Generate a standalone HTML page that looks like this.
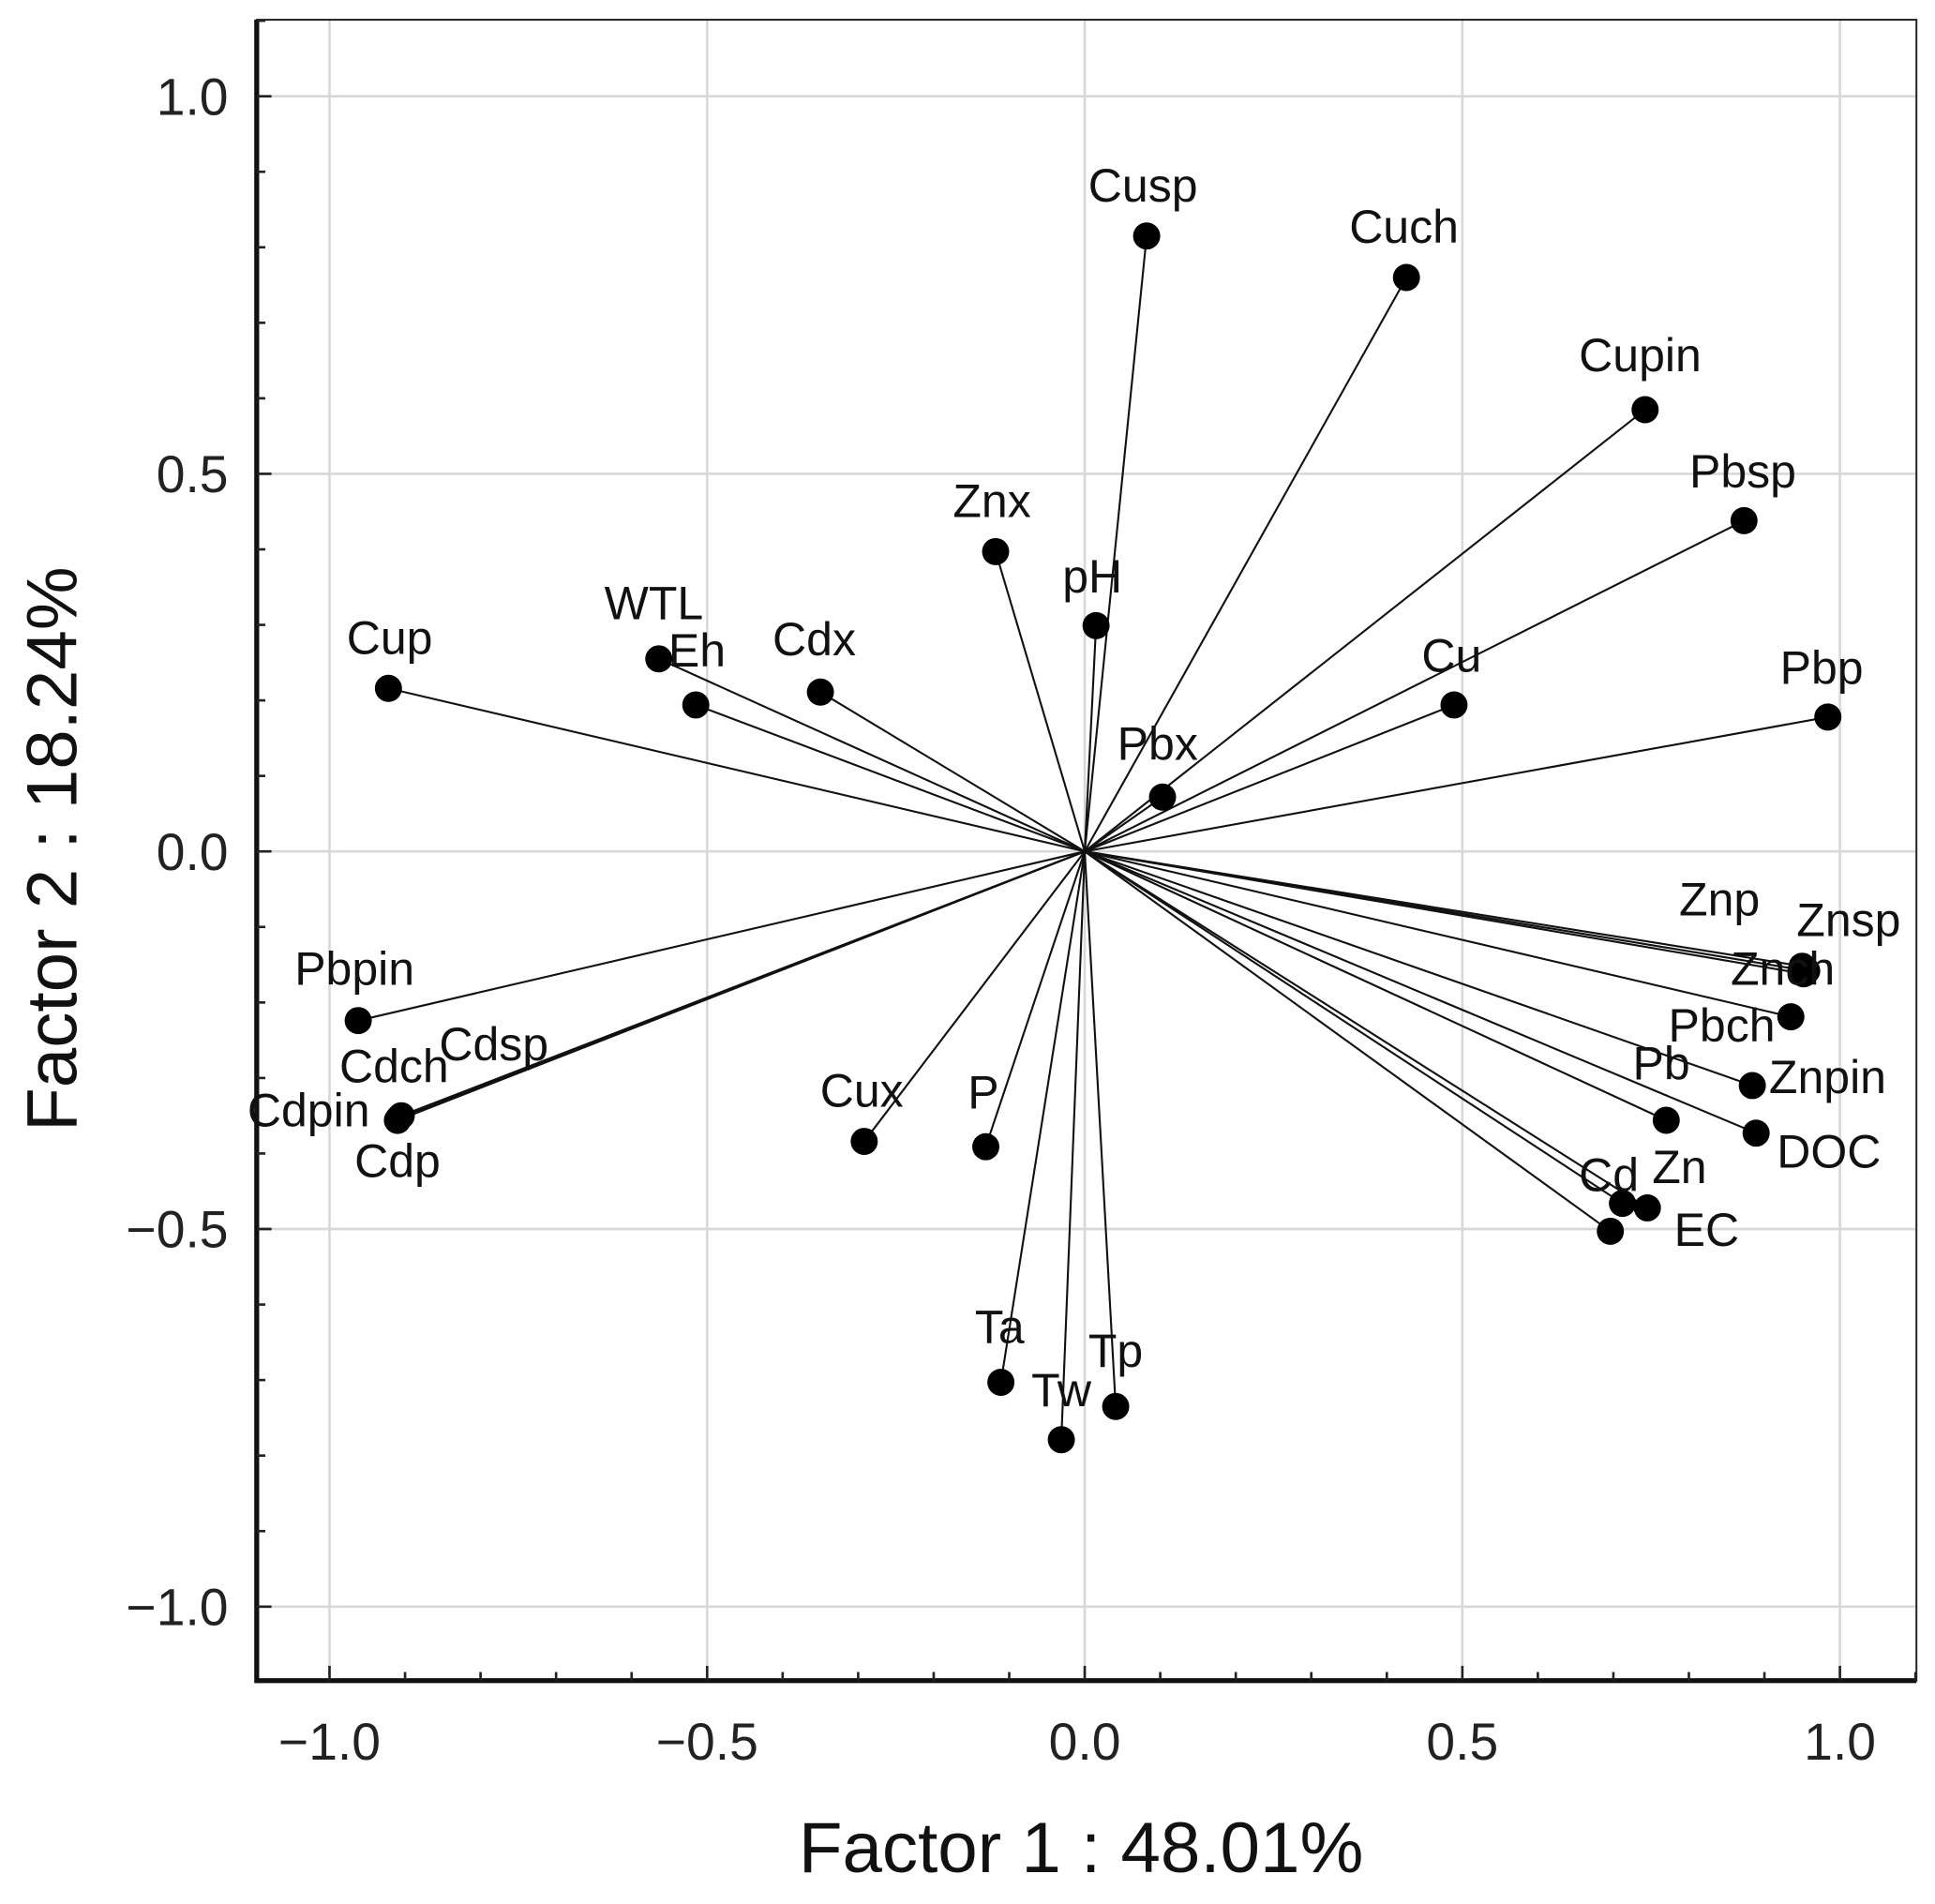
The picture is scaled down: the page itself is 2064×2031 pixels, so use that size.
<!DOCTYPE html>
<html><head><meta charset="utf-8"><style>html,body{margin:0;padding:0;background:#fff}svg{display:block}</style></head>
<body>
<svg id="chart" width="2064" height="2031" viewBox="0 0 1568 1543" xmlns="http://www.w3.org/2000/svg" font-family="Liberation Sans, Arial, sans-serif"></svg>
<script>
const names = ["Cusp","Cuch","Cupin","Pbsp","Pbp","Cu","Pbx","pH","Znx","Cdx","WTL","Eh","Cup","Pbpin","Cdsp","Cdch","Cdpin","Cdp","Cux","P","Ta","Tw","Tp","Znp","Znsp","Znch","Pbch","Znpin","Pb","DOC","Cd","Zn","EC"];
const factor1 = [0.082,0.426,0.742,0.873,0.984,0.489,0.103,0.015,-0.118,-0.350,-0.564,-0.515,-0.922,-0.962,-0.905,-0.908,-0.910,-0.910,-0.292,-0.131,-0.111,-0.031,0.041,0.950,0.956,0.952,0.935,0.884,0.770,0.889,0.712,0.745,0.696];
const factor2 = [0.815,0.760,0.585,0.438,0.178,0.194,0.072,0.299,0.397,0.211,0.255,0.194,0.216,-0.224,-0.350,-0.353,-0.356,-0.356,-0.384,-0.391,-0.703,-0.779,-0.735,-0.152,-0.158,-0.162,-0.219,-0.310,-0.356,-0.373,-0.466,-0.472,-0.503];
const labelDx = [-3,-2,-4,-1,-5,-2,-4,-3,-3,-5,-4,1,1,-3,75,-4,-72,0,-2,-2,-1,0,0,-67,34,-17,-56,61,-4,59,-11,26,78];
const labelDy = [-28,-28,-31,-27,-27,-27,-30,-27,-28,-30,-32,-31,-28,-29,-45,-29,5,46,-28,-31,-32,-27,-32,-41,-28,9,20,6,-33,28,-10,-20,12];
const ticks = [-1.0,-0.5,0.0,0.5,1.0];
const tickText = ["\u22121.0","\u22120.5","0.0","0.5","1.0"];
const svg = document.getElementById('chart');
const NS = 'http://www.w3.org/2000/svg';
const X0 = 208, X1 = 1553, Y0 = 16, Y1 = 1362;
const sx = v => 879 + v * 612;
const sy = v => 690 - v * 612;
function mk(tag, attrs, parent) { const e = document.createElementNS(NS, tag); for (const k in attrs) e.setAttribute(k, attrs[k]); (parent || svg).appendChild(e); return e; }
for (let i = 0; i < ticks.length; i++) {
  const t = ticks[i];
  const gv = mk('line', {x1: sx(t), x2: sx(t), y1: Y0, y2: Y1, stroke: '#d8d8d8', 'stroke-width': 2});
  
  
  const gh = mk('line', {x1: X0, x2: X1, y1: sy(t), y2: sy(t), stroke: '#d8d8d8', 'stroke-width': 2});
  
  
}
const fr = mk('rect', {x: X0, y: Y0, width: X1 - X0, height: Y1 - Y0, fill: 'none', stroke: '#222', 'stroke-width': 1.5});


const la = mk('line', {x1: X0, x2: X0, y1: Y0, y2: Y1 + 2, stroke: '#111', 'stroke-width': 4});


const ba = mk('line', {x1: X0, x2: X1, y1: Y1, y2: Y1, stroke: '#111', 'stroke-width': 4});


for (let k = -11; k <= 11; k++) {
  const v = k / 10;
  const major = k % 5 === 0;
  const L = major ? 12 : 7;
  if (sx(v) > X0 && sx(v) < X1) { const t1 = mk('line', {x1: sx(v), x2: sx(v), y1: Y1, y2: Y1 - L, stroke: '#222', 'stroke-width': 2});   }
  if (sy(v) > Y0 && sy(v) < Y1) { const t2 = mk('line', {x1: X0, x2: X0 + L, y1: sy(v), y2: sy(v), stroke: '#222', 'stroke-width': 2});   }
}
for (let i = 0; i < ticks.length; i++) {
  const xl = mk('text', {x: sx(ticks[i]), y: 1426, 'text-anchor': 'middle', 'font-size': 42, fill: '#222'});
  xl.textContent = tickText[i];
  
  
  const yl = mk('text', {x: 185, y: sy(ticks[i]) + 15, 'text-anchor': 'end', 'font-size': 42, fill: '#222'});
  yl.textContent = tickText[i];
  
  
}
const xt = mk('text', {x: 876, y: 1517, 'text-anchor': 'middle', 'font-size': 58, fill: '#111'});
xt.textContent = 'Factor 1 : 48.01%';


const yt = mk('text', {x: 0, y: 0, 'text-anchor': 'middle', 'font-size': 58, fill: '#111', transform: 'translate(62,688) rotate(-90)'});
yt.textContent = 'Factor 2 : 18.24%';


for (let i = 0; i < names.length; i++) {
  const ln = mk('line', {x1: sx(0), y1: sy(0), x2: sx(factor1[i]), y2: sy(factor2[i]), stroke: '#111', 'stroke-width': 1.6});
  
  
}
for (let i = 0; i < names.length; i++) {
  const c = mk('circle', {cx: sx(factor1[i]), cy: sy(factor2[i]), r: 11, fill: '#000'});
  
  
  const t = mk('text', {x: sx(factor1[i]) + labelDx[i], y: sy(factor2[i]) + labelDy[i], 'text-anchor': 'middle', 'font-size': 38, fill: '#111'});
  t.textContent = names[i];
  
  
}
</script>
</body></html>
